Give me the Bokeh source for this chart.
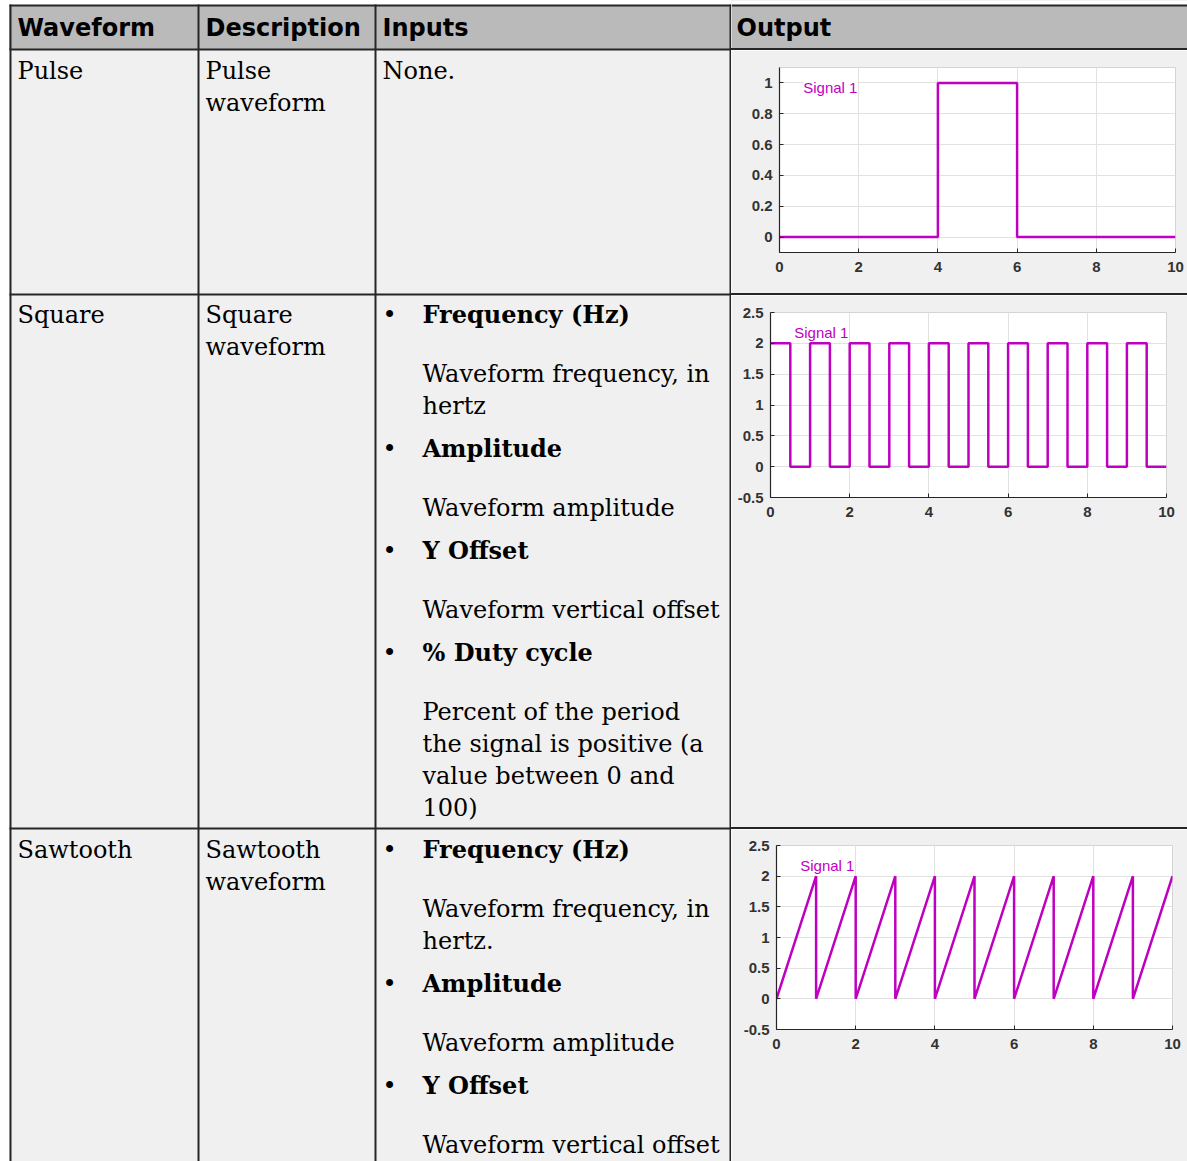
from bokeh.plotting import figure
from bokeh.layouts import row, column
from bokeh.models import (Range1d, ColumnDataSource, FixedTicker, NumeralTickFormatter,
                          Label, Spacer)
from bokeh.core.properties import value
from bokeh.embed import file_html
from bokeh.resources import INLINE

# ---------------- data ----------------
headers = ["Waveform", "Description", "Inputs", "Output"]
waveforms = ["Pulse", "Square", "Sawtooth"]
descriptions = [["Pulse", "waveform"], ["Square", "waveform"], ["Sawtooth", "waveform"]]
pulse_inputs_text = "None."
square_inputs = [
    ("Frequency (Hz)", ["Waveform frequency, in", "hertz"]),
    ("Amplitude", ["Waveform amplitude"]),
    ("Y Offset", ["Waveform vertical offset"]),
    ("% Duty cycle", ["Percent of the period", "the signal is positive (a",
                      "value between 0 and", "100)"]),
]
sawtooth_inputs = [
    ("Frequency (Hz)", ["Waveform frequency, in", "hertz."]),
    ("Amplitude", ["Waveform amplitude"]),
    ("Y Offset", ["Waveform vertical offset"]),
]
signal_name = "Signal 1"

time_ticks = [0, 2, 4, 6, 8, 10]
pulse_yticks = [0, 0.2, 0.4, 0.6, 0.8, 1]
wave_yticks = [-0.5, 0, 0.5, 1, 1.5, 2, 2.5]

pulse_t = [0, 4, 4, 6, 6, 10]
pulse_v = [0, 0, 1, 1, 0, 0]

square_t = [0, 0.5, 1, 1.5, 2, 2.5, 3, 3.5, 4, 4.5, 5, 5.5, 6, 6.5, 7, 7.5, 8, 8.5, 9, 9.5, 10]
square_v = [2, 0, 2, 0, 2, 0, 2, 0, 2, 0, 2, 0, 2, 0, 2, 0, 2, 0, 2, 0, 0]

saw_t = [0, 1, 1, 2, 2, 3, 3, 4, 4, 5, 5, 6, 6, 7, 7, 8, 8, 9, 9, 10]
saw_v = [0, 2, 0, 2, 0, 2, 0, 2, 0, 2, 0, 2, 0, 2, 0, 2, 0, 2, 0, 2]

# ---------------- styles ----------------
HDR = "#bababa"
BG = "#f0f0f0"
LINE = "#262626"
MAG = "#c000c0"
AX = "#262626"
SERIF = "DejaVu Serif"
SANS = "DejaVu Sans"
BODY_SIZE = "24px"
HDR_SIZE = "24px"

# page geometry (page pixel coords; the page has no margin)
X0, Y0, XR, YB = 0, 0, 1187, 1161
TOP_LINE = 5
XSPLIT = 731
ROW_LINES = [49, 294, 828]
COL_LINES = [10, 198, 375, 730]
COL_TEXT_X = [17, 205, 382]
BULLET_X = 389
ITEM_X = 422
OUT_X = 736
HDR_TEXT_Y = 27

# ---------------- left part: columns 1-3 ----------------
L = figure(width=XSPLIT - X0, height=YB - Y0, x_range=Range1d(X0, XSPLIT),
           y_range=Range1d(YB, Y0), output_backend="svg", toolbar_location=None,
           min_border=0, x_axis_type=None, y_axis_type=None,
           background_fill_color="white", border_fill_color="white",
           outline_line_color=None, frame_align=False)
L.grid.visible = False
L.quad(left=[9], right=[XSPLIT], top=[TOP_LINE], bottom=[ROW_LINES[0]], color=HDR)
L.quad(left=[9], right=[XSPLIT], top=[ROW_LINES[0]], bottom=[YB], color=BG)
hy = [TOP_LINE] + ROW_LINES
L.segment(x0=[9] * len(hy), y0=hy, x1=[XSPLIT] * len(hy), y1=hy,
          line_color=LINE, line_width=2)
L.segment(x0=COL_LINES, y0=[TOP_LINE - 1] * 4, x1=COL_LINES, y1=[YB] * 4,
          line_color=LINE, line_width=2)

hdr_src = ColumnDataSource(dict(x=COL_TEXT_X, y=[HDR_TEXT_Y] * 3, t=headers[:3]))
L.text(x="x", y="y", text="t", source=hdr_src, text_font=value(SANS),
       text_font_style="bold", text_font_size=HDR_SIZE, text_baseline="middle",
       text_color="black")

row_first = [ROW_LINES[0] + 21, ROW_LINES[1] + 20, ROW_LINES[2] + 21]
PITCH = 32
reg_x, reg_y, reg_t = [], [], []
bold_x, bold_y, bold_t = [], [], []
bul_x, bul_y = [], []
for i, name in enumerate(waveforms):
    reg_x.append(COL_TEXT_X[0]); reg_y.append(row_first[i]); reg_t.append(name)
    for k, line in enumerate(descriptions[i]):
        reg_x.append(COL_TEXT_X[1]); reg_y.append(row_first[i] + k * PITCH); reg_t.append(line)
reg_x.append(COL_TEXT_X[2]); reg_y.append(row_first[0]); reg_t.append(pulse_inputs_text)


def add_items(items, y):
    for title, lines in items:
        bul_x.append(BULLET_X); bul_y.append(y)
        bold_x.append(ITEM_X); bold_y.append(y); bold_t.append(title)
        y += 59
        for k, line in enumerate(lines):
            reg_x.append(ITEM_X); reg_y.append(y + k * PITCH); reg_t.append(line)
        y += (len(lines) - 1) * PITCH + 43


add_items(square_inputs, row_first[1])
add_items(sawtooth_inputs, row_first[2])

L.text(x="x", y="y", text="t", source=ColumnDataSource(dict(x=reg_x, y=reg_y, t=reg_t)),
       text_font=value(SERIF), text_font_size=BODY_SIZE, text_baseline="middle",
       text_color="black")
L.text(x="x", y="y", text="t", source=ColumnDataSource(dict(x=bold_x, y=bold_y, t=bold_t)),
       text_font=value(SERIF), text_font_style="bold", text_font_size=BODY_SIZE,
       text_baseline="middle", text_color="black")
L.text(x="x", y="y", text="t",
       source=ColumnDataSource(dict(x=bul_x, y=bul_y, t=["\u2022"] * len(bul_x))),
       text_font=value(SERIF), text_font_size=BODY_SIZE, text_baseline="middle",
       text_align="center", text_color="black")

# ---------------- right part: Output column ----------------
RW = XR - XSPLIT

hdr = figure(width=RW, height=ROW_LINES[0] - 1 - Y0, x_range=Range1d(XSPLIT, XR),
             y_range=Range1d(ROW_LINES[0] - 1, Y0), output_backend="svg",
             toolbar_location=None, min_border=0, x_axis_type=None, y_axis_type=None,
             background_fill_color=HDR, border_fill_color=HDR, outline_line_color=None,
             frame_align=False)
hdr.grid.visible = False
hdr.quad(left=[XSPLIT], right=[XR], top=[Y0], bottom=[TOP_LINE], color="white")
hdr.segment(x0=[XSPLIT], y0=[TOP_LINE], x1=[XR], y1=[TOP_LINE], line_color=LINE, line_width=2)
hdr.text(x=[OUT_X], y=[HDR_TEXT_Y], text=[headers[3]], text_font=value(SANS),
         text_font_style="bold", text_font_size=HDR_SIZE, text_baseline="middle",
         text_color="black")


def sep():
    # 2px dark strip: the horizontal row border in the Output column
    return Spacer(width=RW, height=2, styles={"background-color": LINE})


def chart(t, v, yr, yticks, h, left, right, top, frame_h, label_y, mode=None):
    p = figure(width=RW, height=h, x_range=Range1d(0, 10), y_range=Range1d(*yr),
               output_backend="svg", toolbar_location=None,
               min_border_left=left, min_border_right=right, min_border_top=top,
               min_border_bottom=h - top - frame_h,
               background_fill_color="white", border_fill_color=BG,
               outline_line_color="#d4d4d4", frame_align=False)
    p.xaxis.ticker = FixedTicker(ticks=time_ticks)
    p.yaxis.ticker = FixedTicker(ticks=yticks)
    p.xgrid.ticker = FixedTicker(ticks=time_ticks)
    p.ygrid.ticker = FixedTicker(ticks=yticks)
    p.yaxis.formatter = NumeralTickFormatter(format="0.[0]")
    p.xaxis.formatter = NumeralTickFormatter(format="0")
    p.grid.grid_line_color = "#e2e2e2"
    p.grid.grid_line_width = 1
    for ax in (p.xaxis, p.yaxis):
        ax.axis_line_color = AX
        ax.axis_line_width = 1.2
        ax.major_tick_line_color = AX
        ax.major_tick_in = 4
        ax.major_tick_out = 0
        ax.minor_tick_line_color = None
        ax.major_label_text_font = "Liberation Sans"
        ax.major_label_text_font_style = "bold"
        ax.major_label_text_font_size = "15px"
        ax.major_label_text_color = "#333333"
    p.yaxis.major_label_standoff = 7
    p.xaxis.major_label_standoff = 9
    if mode:
        p.step(t, v, mode=mode, line_color=MAG, line_width=2.5)
    else:
        p.line(t, v, line_color=MAG, line_width=2.5)
    p.add_layout(Label(x=0.6, y=label_y, text=signal_name, text_color=MAG,
                       text_font="Liberation Sans", text_font_size="15px",
                       text_baseline="middle", background_fill_color="white"))
    return p


c1 = chart(pulse_t, pulse_v, (-0.1, 1.1), pulse_yticks,
           ROW_LINES[1] - 1 - (ROW_LINES[0] + 1), 48, 12, 17, 185, 0.97)
c2 = chart(square_t, square_v, (-0.5, 2.5), wave_yticks,
           ROW_LINES[2] - 1 - (ROW_LINES[1] + 1), 39, 21, 17, 185, 2.18, mode="after")
c3 = chart(saw_t, saw_v, (-0.5, 2.5), wave_yticks,
           YB - (ROW_LINES[2] + 1), 45, 15, 16, 184, 2.18)

right = column(hdr, sep(), c1, sep(), c2, sep(), c3)
layout = row(L, right)

open("out.html", "w").write(file_html(layout, INLINE))
